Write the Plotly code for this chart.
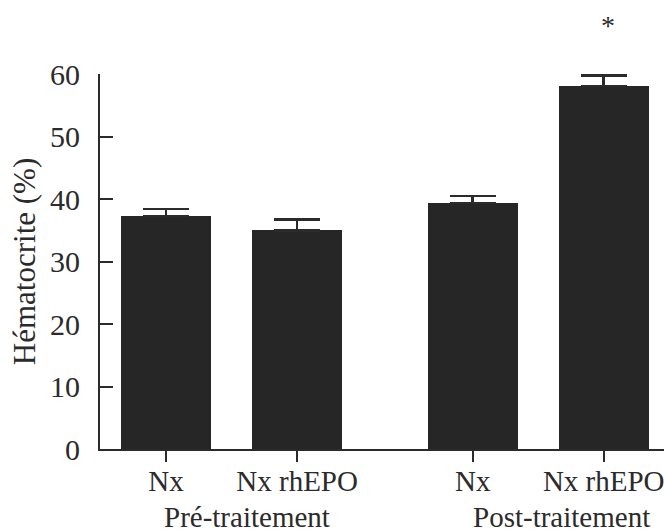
import plotly.graph_objects as go

# Hematocrit by group, before and after treatment
groups = ["Pré-traitement", "Post-traitement"]
conditions = ["Nx", "Nx rhEPO"]
hematocrit_pre = [37.3, 35.0]
hematocrit_post = [39.4, 58.1]
sem_pre = [1.1, 1.75]
sem_post = [1.1, 1.7]
significant_post = [False, True]
y_ticks = [0, 10, 20, 30, 40, 50, 60]

INK = "#2b2b2b"
BAR = "#262626"
FONT = "Liberation Serif"

# x positions: one unit between bars inside a group, wider gap between groups
group_offset = [0.0, 2.34]
xs, labels, values, errors, stars = [], [], [], [], []
for g, (vals, errs) in enumerate([(hematocrit_pre, sem_pre), (hematocrit_post, sem_post)]):
    for i, cond in enumerate(conditions):
        xs.append(group_offset[g] + i)
        labels.append(cond)
        values.append(vals[i])
        errors.append(errs[i])
        stars.append(g == 1 and significant_post[i])

fig = go.Figure(
    go.Bar(
        x=xs,
        y=values,
        width=0.687,
        marker=dict(color=BAR, line=dict(width=0)),
        error_y=dict(
            type="data",
            array=errors,
            arrayminus=[0] * len(errors),
            symmetric=False,
            color=INK,
            thickness=2.5,
            width=23,
        ),
        showlegend=False,
    )
)

# group captions under the category labels
group_label_x = [0.62, 3.02]
for gx, name in zip(group_label_x, groups):
    fig.add_annotation(
        x=gx, xref="x", y=0, yref="paper", yshift=-68,
        text=name, showarrow=False, yanchor="middle",
        font=dict(family=FONT, size=29, color=INK),
    )

# significance marker above the error bar
for x, v, e, s in zip(xs, values, errors, stars):
    if s:
        fig.add_annotation(
            x=x + 0.03, y=v + e, yshift=50, text="*", showarrow=False,
            yanchor="middle", font=dict(family=FONT, size=28, color=INK),
        )

fig.update_layout(
    width=664,
    height=532,
    margin=dict(l=100, r=0, t=74, b=83),
    paper_bgcolor="white",
    plot_bgcolor="white",
    font=dict(family=FONT, color=INK),
    bargap=0,
    xaxis=dict(
        range=[-0.504, 3.80],
        tickmode="array",
        tickvals=xs,
        ticktext=labels,
        showline=True,
        linecolor=INK,
        linewidth=2,
        ticks="outside",
        ticklen=11,
        tickwidth=2,
        tickcolor=INK,
        showgrid=False,
        zeroline=False,
        ticklabeloverflow="allow",
        ticklabelstandoff=-6,
        tickfont=dict(family=FONT, size=29, color=INK),
    ),
    yaxis=dict(
        range=[0, 60],
        tickmode="array",
        tickvals=y_ticks,
        showline=True,
        linecolor=INK,
        linewidth=2,
        ticks="inside",
        ticklen=13,
        tickwidth=2,
        tickcolor=INK,
        showgrid=False,
        zeroline=False,
        ticklabelstandoff=12,
        tickfont=dict(family=FONT, size=30, color=INK),
        title=dict(text="Hématocrite (%)", standoff=5,
                   font=dict(family=FONT, size=31, color=INK)),
    ),
)

fig.write_html("out.html")
